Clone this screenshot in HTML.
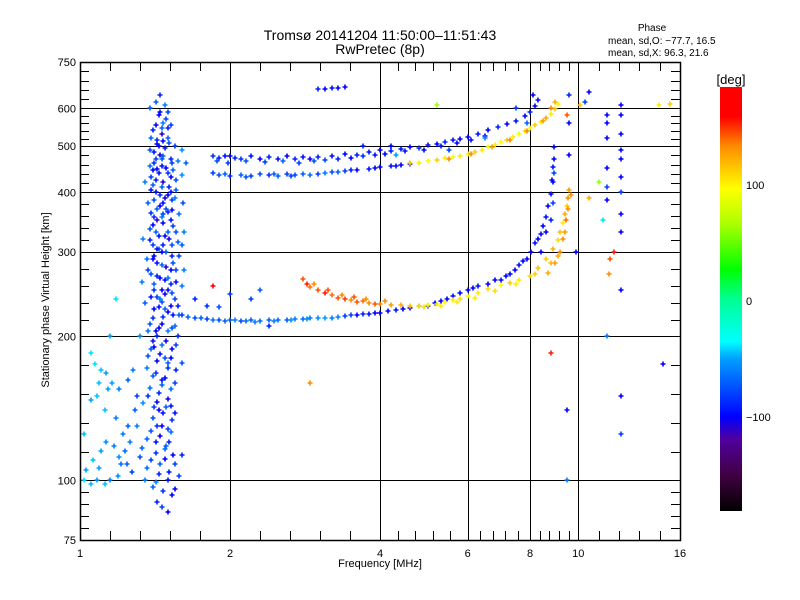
<!DOCTYPE html>
<html><head><meta charset="utf-8"><style>
body{margin:0;background:#fff;}
svg{display:block;font-family:"Liberation Sans",sans-serif;}
</style></head><body>
<svg id="chart" width="800" height="600" viewBox="0 0 800 600">
<rect width="800" height="600" fill="#fff"/>
<text x="380" y="40" font-size="14" text-anchor="middle">Tromsø 20141204 11:50:00–11:51:43</text>
<text x="380" y="54" font-size="14" text-anchor="middle">RwPretec (8p)</text>
<text x="652" y="31" font-size="10" text-anchor="middle">Phase</text>
<text x="608" y="44" font-size="10">mean, sd,O: −77.7, 16.5</text>
<text x="608" y="56" font-size="10">mean, sd,X:  96.3, 21.6</text>
<text x="380" y="567" font-size="11" text-anchor="middle">Frequency [MHz]</text>
<text transform="translate(49,300) rotate(-90)" font-size="11" text-anchor="middle">Stationary phase Virtual Height [km]</text>
<g id="grid"></g><g id="pts"></g><g id="axes"></g>
<defs><linearGradient id="cmap" x1="0" y1="1" x2="0" y2="0">
<stop offset="0" stop-color="#000"/><stop offset="0.083" stop-color="#400040"/><stop offset="0.17" stop-color="#5000a0"/><stop offset="0.222" stop-color="#0000ff"/><stop offset="0.36" stop-color="#00a0ff"/><stop offset="0.40" stop-color="#00ffff"/><stop offset="0.5" stop-color="#00ff90"/><stop offset="0.57" stop-color="#00ff00"/><stop offset="0.68" stop-color="#b0ff00"/><stop offset="0.76" stop-color="#ffff00"/><stop offset="0.86" stop-color="#ff8c00"/><stop offset="0.93" stop-color="#ff0000"/><stop offset="1" stop-color="#ff0000"/>
</linearGradient></defs>
<rect x="720" y="87" width="22" height="424" fill="url(#cmap)"/>
<text x="731" y="84" font-size="13" text-anchor="middle">[deg]</text>
<text x="746" y="189" font-size="11">100</text>
<text x="746" y="305" font-size="11">0</text>
<text x="746" y="421" font-size="11">−100</text>
</svg>
<script>
const xTicks=[1,2,4,6,8,10,16];
const xGrid=[2,4,6,8,10];
const yTicks=[75,100,200,300,400,500,600,750];
const yGrid=[100,200,300,400,500,600];
const band=[[1.45,640,-90],[1.42,620,-70],[1.48,610,-60],[1.38,600,-70],[1.5,590,-80],[1.44,580,-100],[1.47,560,-60],[1.52,555,-80],[1.40,540,-90],[1.46,530,-110],[1.50,520,-70],[1.43,505,-100],[1.55,500,-80],[1.48,495,-95],[1.38,490,-75],[1.45,480,-105],[1.52,470,-90],[1.57,465,-60],[1.41,460,-85],[1.49,450,-100],[1.54,445,-70],[1.44,440,-95],[1.60,435,-55],[1.39,430,-80],[1.47,420,-110],[1.51,410,-90],[1.56,405,-70],[1.42,400,-95],[1.48,390,-105],[1.53,385,-80],[1.37,380,-70],[1.45,375,-100],[1.50,365,-90],[1.58,360,-65],[1.41,355,-85],[1.47,345,-100],[1.54,340,-80],[1.38,335,-75],[1.44,325,-95],[1.51,320,-105],[1.57,315,-70],[1.40,310,-80],[1.46,300,-100],[1.53,295,-90],[1.36,290,-65],[1.43,285,-95],[1.49,280,-110],[1.56,275,-80],[1.39,270,-75],[1.45,265,-100],[1.52,258,-90],[1.60,255,-60],[1.41,250,-85],[1.48,245,-105],[1.55,240,-80],[1.35,235,-70],[1.44,230,-95],[1.50,225,-100],[1.58,222,-70],[1.40,218,-85],[1.46,212,-100],[1.53,208,-75],[1.37,205,-65],[1.43,200,-90],[1.49,196,-105],[1.56,192,-80],[1.39,188,-70],[1.45,184,-95],[1.52,180,-100],[1.60,176,-75],[1.36,172,-60],[1.42,168,-85],[1.48,164,-100],[1.55,160,-80],[1.38,156,-65],[1.44,152,-90],[1.50,148,-105],[1.34,145,-55],[1.41,142,-80],[1.47,138,-95],[1.53,134,-85],[1.30,130,-60],[1.39,127,-75],[1.45,124,-100],[1.51,120,-90],[1.33,117,-70],[1.42,114,-85],[1.48,111,-100],[1.55,108,-80],[1.36,106,-65],[1.44,103,-90],[1.50,100,-95],[1.40,97,-70],[1.47,95,-85],[1.53,93,-100],[1.46,88,-80],[1.50,86,-100],[1.43,90,-90],
[1.42,470,-80],[1.46,455,-95],[1.40,415,-70],[1.52,430,-100],[1.45,395,-85],[1.49,370,-75],[1.43,350,-110],[1.50,330,-70],[1.47,310,-90],[1.41,295,-100],[1.54,285,-75],[1.48,262,-95],[1.43,242,-80],[1.52,232,-105],[1.47,220,-85],[1.55,210,-65],[1.41,190,-100],[1.50,172,-85],[1.46,158,-70],[1.52,143,-95],[1.43,130,-85],[1.49,118,-70],[1.60,113,-90],[1.58,102,-80],[1.35,100,-60],[1.62,275,-60],[1.63,460,-70],[1.61,380,-75],[1.44,500,-100],[1.50,545,-90],[1.46,470,-70],[1.40,445,-100],[1.52,400,-95],[1.47,360,-80],[1.44,305,-70],[1.50,250,-95],[1.46,236,-75],[1.42,205,-100],[1.48,180,-75],[1.44,140,-100],[1.50,128,-80]];
const band2=[[1.39,520,-70],[1.43,515,-90],[1.47,512,-100],[1.51,508,-75],[1.41,485,-95],[1.47,478,-70],[1.53,460,-80],[1.38,455,-65],[1.43,448,-100],[1.50,440,-85],[1.56,425,-75],[1.42,425,-90],[1.46,410,-70],[1.39,405,-95],[1.50,395,-100],[1.55,390,-60],[1.41,385,-75],[1.47,380,-95],[1.43,370,-70],[1.53,368,-100],[1.39,362,-85],[1.46,355,-60],[1.52,350,-95],[1.40,342,-100],[1.56,330,-75],[1.42,330,-70],[1.48,325,-100],[1.38,318,-90],[1.53,310,-75],[1.43,305,-95],[1.49,300,-70],[1.58,295,-80],[1.40,290,-100],[1.46,282,-70],[1.52,275,-100],[1.37,275,-80],[1.43,268,-90],[1.50,265,-65],[1.56,260,-95],[1.41,258,-70],[1.46,250,-100],[1.53,247,-75],[1.39,242,-95],[1.45,240,-65],[1.57,232,-90],[1.41,228,-100],[1.48,228,-70],[1.54,222,-95],[1.38,212,-75],[1.44,208,-100],[1.50,205,-60],[1.57,200,-85],[1.40,196,-95],[1.46,192,-65],[1.53,188,-100],[1.37,182,-75],[1.43,178,-100],[1.50,176,-70],[1.56,170,-90],[1.40,165,-70],[1.46,162,-95],[1.52,155,-65],[1.37,150,-85],[1.43,146,-100],[1.49,142,-70],[1.55,138,-95],[1.40,135,-75],[1.46,130,-100],[1.52,126,-65],[1.36,122,-70],[1.42,120,-95],[1.48,116,-65],[1.54,113,-100],[1.39,110,-80],[1.45,108,-70],[1.51,104,-95],[1.55,96,-100],[1.42,99,-60],[1.60,310,-70],[1.62,330,-60],[1.60,490,-55],[1.35,420,-60],[1.34,320,-60],[1.33,260,-60],[1.32,200,-55],[1.45,590,-95],[1.49,570,-80],[1.42,555,-100],[1.46,545,-70]];
const leftScatter=[[1.02,100,-40],[1.05,98,-45],[1.08,100,-50],[1.12,98,-45],[1.15,100,-60],[1.03,105,-50],[1.10,115,-50],[1.13,120,-55],[1.17,118,-60],[1.20,112,-55],[1.24,108,-70],[1.27,104,-80],[1.22,125,-60],[1.25,130,-70],[1.18,135,-60],[1.12,140,-45],[1.08,150,-45],[1.05,147,-50],[1.16,160,-50],[1.20,155,-60],[1.10,170,-45],[1.07,175,-40],[1.13,168,-50],[1.28,170,-60],[1.25,162,-70],[1.30,150,-80],[1.05,185,-40],[1.15,200,-50],[1.18,240,-40],[1.02,125,-45],[1.32,112,-75],[1.06,110,-45],[1.09,106,-50],[1.19,102,-55],[1.23,115,-65],[1.26,120,-60],[1.29,140,-70],[1.09,160,-45],[1.14,155,-50],[1.21,108,-65]];
const upperO=[[1.85,478,-85],[1.9,472,-90],[1.95,476,-95],[2.0,478,-100],[2.05,472,-90],[2.1,470,-85],[2.2,476,-95],[2.3,470,-100],[2.4,474,-90],[2.5,470,-95],[2.6,476,-100],[2.7,471,-90],[2.8,475,-95],[2.9,470,-100],[3.0,474,-90],[3.2,476,-95],[3.4,482,-100],[3.6,480,-90],[3.8,486,-95],[4.0,490,-100],[4.2,488,-90],[4.4,494,-95],[4.6,498,-100],[4.8,496,-85],[5.0,502,-95],[5.2,506,-100],[5.4,510,-90],[5.6,514,-95],[5.8,518,-100],[6.0,522,-100],[6.3,530,-95],[6.6,540,-100],[6.9,548,-90],[7.2,556,-100],[7.5,565,-95],[7.8,578,-100],[8.0,590,-90],[8.2,608,-100],[8.3,625,-95],
[1.88,465,-75],[1.98,462,-80],[2.15,466,-75],[2.35,463,-80],[2.55,465,-70],[2.75,462,-80],[2.95,466,-75],[3.1,468,-80],[3.3,470,-90],[3.5,472,-100],[3.7,476,-85],[3.9,480,-95],[4.1,482,-100],[4.5,488,-95],[4.9,492,-100],[5.3,500,-95],[5.7,508,-100],[6.1,515,-95],[6.5,525,-100]];
const lowerRow=[[1.85,440,-80],[1.9,435,-75],[2.0,434,-85],[2.1,436,-70],[2.2,434,-80],[2.3,437,-75],[2.4,435,-85],[2.5,434,-70],[2.6,437,-80],[2.7,436,-75],[2.8,438,-70],[3.0,438,-80],[3.2,441,-75],[3.4,444,-80],[3.6,446,-100],[3.8,449,-95],[4.0,452,-100],[4.2,454,-95],[4.4,457,-100],[4.6,458,-95],[1.95,438,-70],[2.15,432,-75],[2.45,438,-70],[2.65,433,-80],[2.9,435,-65],[3.1,440,-60],[3.3,442,-70],[3.5,445,-90],[3.9,450,-100],[4.3,455,-95]];
const upperX=[[4.6,460,110],[4.8,462,100],[5.0,465,95],[5.2,468,110],[5.4,472,100],[5.6,475,90],[5.8,478,100],[6.0,482,95],[6.2,487,110],[6.4,492,100],[6.6,498,90],[6.8,503,100],[7.0,510,95],[7.2,516,110],[7.4,522,100],[7.6,530,90],[7.8,537,100],[8.0,545,95],[8.2,553,110],[8.4,562,100],[8.6,572,120],[8.8,585,100],[9.0,598,110],[9.1,612,95],[5.5,470,130],[6.1,482,130],[6.7,497,125],[7.3,515,130],[7.9,538,130],[8.5,565,125]];
const lowerO=[[1.6,222,-80],[1.7,219,-75],[1.8,217,-80],[1.9,216,-75],[2.0,216,-70],[2.1,215,-75],[2.2,216,-70],[2.3,215,-65],[2.4,216,-70],[2.5,216,-65],[2.6,216,-70],[2.7,217,-60],[2.8,217,-65],[2.9,218,-60],[3.0,218,-55],[3.2,219,-60],[3.4,221,-80],[3.6,222,-100],[3.8,223,-95],[4.0,224,-100],[4.3,227,-95],[4.6,229,-100],[5.0,232,-95],[5.3,237,-100],[5.6,243,-95],[6.0,250,-100],[6.3,255,-95],[6.6,258,-100],[7.0,262,-95],[7.3,270,-100],[7.6,282,-95],[7.9,290,-100],[8.2,313,-95],[8.4,328,-100],[8.6,355,-95],[8.7,375,-100],[8.8,398,-95],[8.85,425,-100],[8.9,452,-95],[8.95,497,-100],
[1.65,220,-70],[1.75,218,-70],[1.85,216,-65],[1.95,215,-70],[2.05,216,-60],[2.15,215,-65],[2.25,214,-60],[2.45,215,-60],[2.65,216,-55],[2.85,217,-55],[3.1,219,-50],[3.3,220,-60],[3.5,222,-80],[3.7,223,-90],[3.9,224,-100],[4.15,226,-100],[4.45,228,-100],[4.8,231,-100],[5.15,235,-100],[5.45,240,-100],[5.8,247,-100],[6.15,253,-100],[6.8,262,-100],[7.15,268,-100],[7.45,276,-100],[7.75,288,-100],[8.05,300,-100],[8.3,320,-100],[8.5,340,-100],[8.9,420,-100],[8.92,470,-100],[8.95,440,-80],[8.9,380,-80],[8.8,350,-90],[8.6,330,-100],[8.4,300,-100]];
const orangeX=[[2.8,264,140],[2.85,258,150],[2.9,254,135],[3.0,250,140],[3.1,246,150],[3.2,244,135],[3.3,241,140],[3.4,239,145],[3.5,238,130],[3.6,236,140],[3.7,237,135],[3.8,235,130],[3.9,234,140],[4.0,234,130],[4.2,233,125],[4.4,233,120],[4.6,232,115],[2.95,258,130],[3.15,250,140],[3.35,244,130],[3.55,242,140],[3.75,240,130],[4.1,237,130]];
const yellowX=[[4.8,232,100],[5.0,233,95],[5.2,234,100],[5.4,236,95],[5.6,238,100],[5.8,240,105],[6.0,243,95],[6.3,247,100],[6.6,251,105],[7.0,256,95],[7.3,259,110],[7.6,263,100],[8.0,268,105],[8.3,278,115],[8.6,290,110],[8.9,305,120],[9.1,318,105],[9.2,330,115],[9.3,345,100],[9.4,360,120],[9.5,375,110],[9.55,390,130],[9.6,405,125],[9.2,300,130],[9.0,285,125],[8.7,272,120],[9.3,320,130],[9.45,350,135],[4.9,230,105],[5.3,232,100],[5.7,236,100],[6.2,241,100],[6.8,249,105],[7.5,258,100],[8.2,270,110],[8.8,285,115],[9.1,295,120],[9.4,330,125],[9.55,370,130],[9.65,395,130]];
const scattered=[[3.1,660,-100],[3.2,662,-95],[3.3,661,-100],[3.4,664,-100],[3.0,658,-90],[2.9,160,130],[8.8,185,150],[9.5,140,-100],[9.5,100,-60],[10.1,610,110],[10.3,620,-80],[10.5,650,-100],[11.4,580,-100],[11.4,560,-100],[11.4,520,-100],[11.4,450,-100],[11.4,410,-80],[11.4,385,-100],[12.2,610,-100],[12.2,580,-100],[12.2,530,-100],[12.2,490,-100],[12.2,470,-100],[12.2,430,-100],[12.2,400,-80],[12.2,360,-100],[12.2,330,-100],[12.2,250,-100],[12.2,150,-100],[12.2,125,-80],[11.4,200,-60],[11.5,270,130],[11.6,290,140],[11.8,300,150],[11.0,420,60],[10.5,390,120],[14.5,610,100],[15.3,612,110],[14.8,175,-100],[9.9,300,-100],[9.6,480,-100],[9.6,560,-100],[9.6,640,-90],[11.2,350,-40],[9.5,580,140],[2.4,210,-90],[2.2,240,-80],[2.3,250,-70],[1.9,230,-75],[2.0,245,-80],[1.85,255,170],[1.7,240,-90],[1.8,232,-85],[7.5,600,-80],[7.9,560,-70],[8.1,640,-100],[8.8,600,130],[9.0,620,120],[5.2,610,60],[4.3,480,-50],[5.5,490,-80],[6.5,520,-60],[3.7,500,-90],[4.2,500,-100]];
const series=[leftScatter,band,band2,upperO,lowerRow,upperX,lowerO,orangeX,yellowX,scattered];

const X0=80,X1=680,Y0=540,Y1=62;
const xs=f=>X0+(X1-X0)*Math.log2(f)/4;
const ys=h=>Y0-(Y0-Y1)*Math.log10(h/75);
const NS='http://www.w3.org/2000/svg';
function cmap(p){
  const st=[[-180,0,0,0],[-150,64,0,64],[-120,80,0,160],[-100,0,0,255],[-50,0,160,255],[-36,0,255,255],[0,0,255,144],[25,0,255,0],[65,176,255,0],[94,255,255,0],[130,255,140,0],[155,255,0,0],[180,255,0,0]];
  for(let i=1;i<st.length;i++){if(p<=st[i][0]){const a=st[i-1],b=st[i],t=(p-a[0])/(b[0]-a[0]);return `rgb(${Math.round(a[1]+t*(b[1]-a[1]))},${Math.round(a[2]+t*(b[2]-a[2]))},${Math.round(a[3]+t*(b[3]-a[3]))})`;}}
  return 'rgb(255,0,0)';
}
const grid=document.getElementById('grid'),axes=document.getElementById('axes'),pts=document.getElementById('pts');
function line(g,x1,y1,x2,y2,name,w){const l=document.createElementNS(NS,'line');l.setAttribute('x1',x1);l.setAttribute('y1',y1);l.setAttribute('x2',x2);l.setAttribute('y2',y2);l.setAttribute('stroke','#000');l.setAttribute('stroke-width',w||1);l.setAttribute('shape-rendering','crispEdges');


g.appendChild(l);}
function text(x,y,s,anchor,name){const t=document.createElementNS(NS,'text');t.setAttribute('x',x);t.setAttribute('y',y);t.setAttribute('font-size','11');t.setAttribute('text-anchor',anchor);t.textContent=s;


axes.appendChild(t);}
xGrid.forEach(v=>line(grid,Math.round(xs(v))+.5,Y1,Math.round(xs(v))+.5,Y0,'x-gridline',1.3));
yGrid.forEach(v=>line(grid,X0,Math.round(ys(v))+.5,X1,Math.round(ys(v))+.5,'y-gridline',1.3));
for(let i=0;i<xTicks.length-1;i++){const a=xs(xTicks[i]),b=xs(xTicks[i+1]);for(let k=1;k<5;k++){const x=Math.round(a+(b-a)*k/5)+.5;line(axes,x,Y0,x,Y0-9,'x-minor-tick');line(axes,x,Y1,x,Y1+9,'x-minor-tick');}}
for(let i=0;i<yTicks.length-1;i++){const a=ys(yTicks[i]),b=ys(yTicks[i+1]);for(let k=1;k<5;k++){const y=Math.round(a+(b-a)*k/5)+.5;line(axes,X0,y,X0+9,y,'y-minor-tick');line(axes,X1,y,X1-9,y,'y-minor-tick');}}
xTicks.forEach(v=>text(xs(v),557,String(v),'middle','x-tick-label'));
yTicks.forEach(v=>text(X0-4,ys(v)+4,String(v),'end','y-tick-label'));
const fr=document.createElementNS(NS,'rect');fr.setAttribute('x',X0+.5);fr.setAttribute('y',Y1+.5);fr.setAttribute('width',X1-X0);fr.setAttribute('height',Y0-Y1);fr.setAttribute('fill','none');fr.setAttribute('stroke','#000');fr.setAttribute('stroke-width','1.5');


axes.appendChild(fr);
series.forEach(s=>s.forEach(p=>{const x=Math.round(xs(p[0])),y=Math.round(ys(p[1]));const e=document.createElementNS(NS,'path');e.setAttribute('d',`M${x-2.5} ${y}h5M${x} ${y-2.5}v5`);e.setAttribute('stroke',cmap(p[2]));e.setAttribute('stroke-width','1.6');


pts.appendChild(e);}));
</script>
</body></html>
